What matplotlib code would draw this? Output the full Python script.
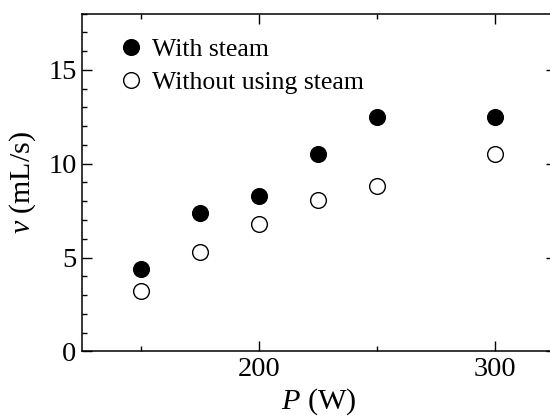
import matplotlib
matplotlib.use("Agg")
import matplotlib.pyplot as plt
from matplotlib.ticker import MultipleLocator

plt.rcParams['font.family'] = ['Liberation Serif', 'DejaVu Serif']
plt.rcParams['mathtext.fontset'] = 'custom'
plt.rcParams['mathtext.rm'] = 'Liberation Serif'
plt.rcParams['mathtext.it'] = 'Liberation Serif:italic'

power = [150, 175, 200, 225, 250, 300]
with_steam = [4.4, 7.4, 8.3, 10.5, 12.5, 12.5]
without_steam = [3.2, 5.3, 6.8, 8.05, 8.8, 10.5]
series_labels = ["With steam", "Without using steam"]

fig = plt.figure(figsize=(5.5, 4.17), dpi=100)
ax = fig.add_axes([82 / 550, 65.7 / 417, 474.4 / 550, 337.6 / 417])

ax.plot(power, with_steam, 'o', ms=11.3, mfc='black', mec='black', mew=1, label=series_labels[0])
ax.plot(power, without_steam, 'o', ms=11.3, mfc='white', mec='black', mew=1, label=series_labels[1])

ax.set_xlim(125, 326)
ax.set_ylim(0, 18)
ax.xaxis.set_major_locator(MultipleLocator(100))
ax.xaxis.set_minor_locator(MultipleLocator(50))
ax.yaxis.set_major_locator(MultipleLocator(5))
ax.yaxis.set_minor_locator(MultipleLocator(1))
ax.tick_params(which='both', direction='in', top=True, right=True, width=1, labelsize=20.5)
ax.tick_params(which='major', length=7.2, pad=4)
ax.tick_params(which='minor', length=3.6)
for s in ax.spines.values():
    s.set_linewidth(1.1)

ax.set_xlabel(r'$P$ (W)', fontsize=21.8, labelpad=3)
ax.set_ylabel(r'$v$ (mL/s)', fontsize=21.5, labelpad=7)

leg = ax.legend(loc='upper left', frameon=False, fontsize=18.5, handletextpad=0.3,
                borderaxespad=0.0, labelspacing=0.38, handlelength=1.0,
                bbox_to_anchor=(0.055, 0.958))

fig.savefig('out.png', dpi=100)
